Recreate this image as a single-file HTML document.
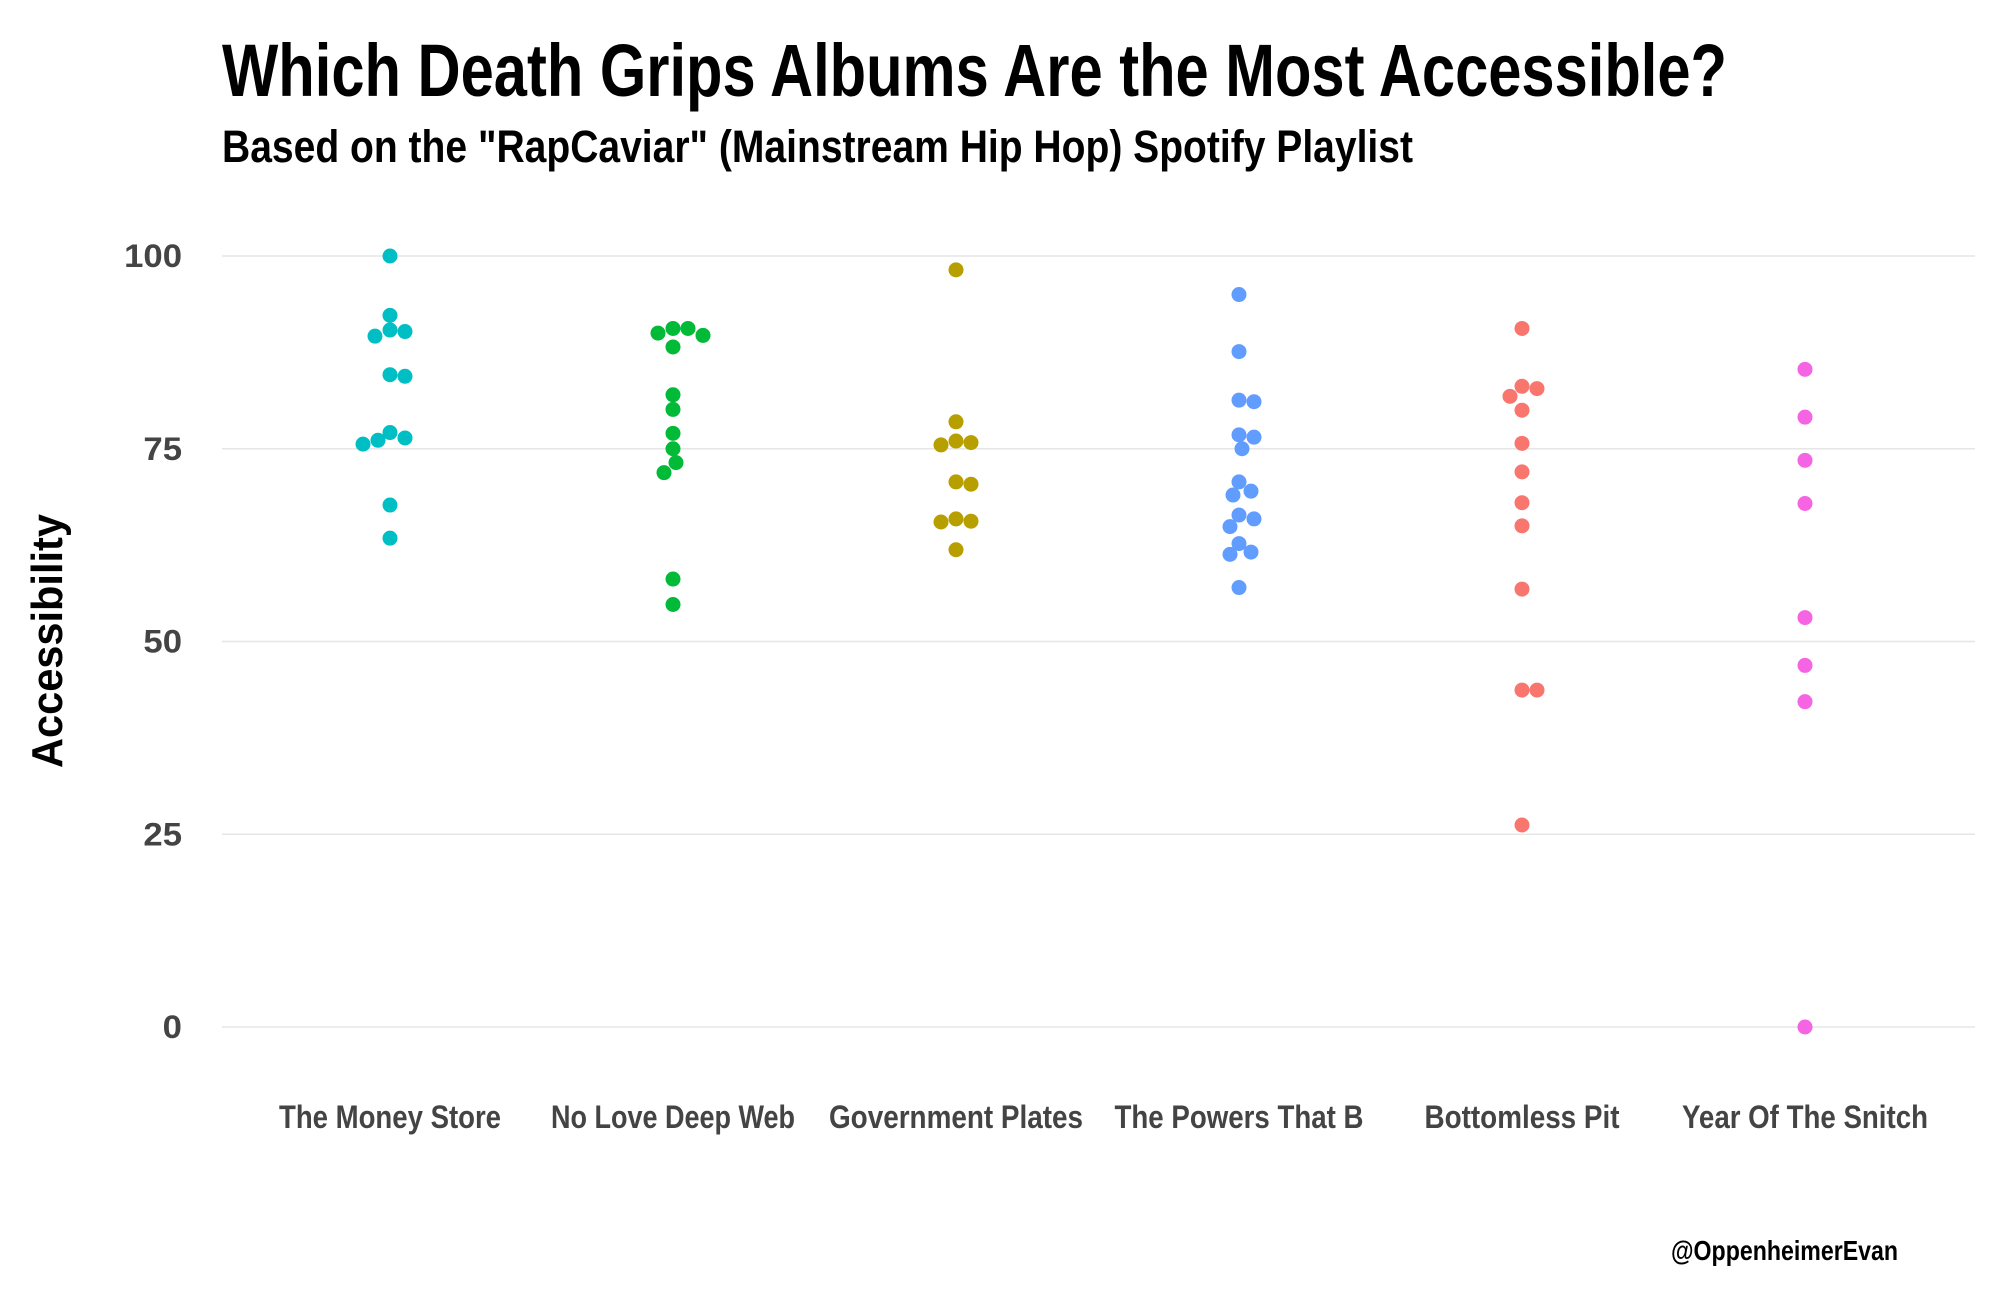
<!DOCTYPE html>
<html><head><meta charset="utf-8"><style>
html,body{margin:0;padding:0;background:#fff;}
svg{display:block;font-family:"Liberation Sans Narrow","Liberation Sans",sans-serif;font-weight:bold;}
</style></head><body>
<svg id="chart" width="2000" height="1304" viewBox="0 0 2000 1304">
<text x="222" y="96" font-size="74" fill="#000" textLength="1505" lengthAdjust="spacingAndGlyphs">Which Death Grips Albums Are the Most Accessible?</text>
<text x="222" y="162" font-size="45" fill="#000" textLength="1191" lengthAdjust="spacingAndGlyphs">Based on the "RapCaviar" (Mainstream Hip Hop) Spotify Playlist</text>
<text transform="translate(62,641) rotate(-90)" text-anchor="middle" font-size="44" fill="#000" textLength="254" lengthAdjust="spacingAndGlyphs">Accessibility</text>
<text x="1898" y="1260" text-anchor="end" font-size="28" fill="#000" textLength="227" lengthAdjust="spacingAndGlyphs">@OppenheimerEvan</text>
<g id="grid"></g><g id="xlabels"></g><g id="ylabels"></g><g id="points"></g>
</svg>
<script>
const categories=["The Money Store","No Love Deep Web","Government Plates","The Powers That B","Bottomless Pit","Year Of The Snitch"];
const labelWidths=[222,244,254,249,195,246];
const colors=["#00BFC4","#00BA38","#B79F00","#619CFF","#F8766D","#F564E3"];
const moneyStore=[100,92.3,90.4,90.2,89.6,84.4,84.6,77.1,76.4,76.1,75.6,67.7,63.4];
const noLove=[90.6,90.6,90.0,89.7,88.2,82,80.1,77,75,73.2,71.9,58.1,54.8];
const govPlates=[98.2,78.5,76,75.5,75.8,70.7,70.4,65.9,65.6,65.5,61.9];
const powers=[95,87.6,81.3,81.1,76.8,76.5,75,70.7,69.5,69.0,66.4,65.9,64.9,62.7,61.6,61.3,57];
const bottomless=[90.6,83.1,82.8,81.8,80,75.7,72,68,65,56.8,43.7,43.7,26.2];
const snitch=[85.3,79.1,73.5,67.9,53.1,46.9,42.2,0];
const yTicks=[0,25,50,75,100];
const series=[moneyStore,noLove,govPlates,powers,bottomless,snitch];
const NS="http://www.w3.org/2000/svg";
const y=v=>1027-v*7.71;
const x=i=>390+i*283;
function mk(t,a,p){const e=document.createElementNS(NS,t);for(const k in a)e.setAttribute(k,a[k]);p.appendChild(e);return e;}
const grid=document.getElementById('grid'),yl=document.getElementById('ylabels'),xl=document.getElementById('xlabels'),pts=document.getElementById('points');
yTicks.forEach(t=>{
 const l=mk('line',{x1:222,x2:1975,y1:y(t),y2:y(t),stroke:'#e6e6e6','stroke-width':1.5},grid);
 
 
 const s=String(t);
 const tx=mk('text',{x:182,y:y(t)+11,'text-anchor':'end','font-size':32,fill:'#444',textLength:s.length*19.3,lengthAdjust:'spacingAndGlyphs'},yl);
 tx.textContent=s;
 
 
});
categories.forEach((c,i)=>{
 const tx=mk('text',{x:x(i),y:1128,'text-anchor':'middle','font-size':32,fill:'#444',textLength:labelWidths[i],lengthAdjust:'spacingAndGlyphs'},xl);
 tx.textContent=c;
 
 
});
const r=7.5,d=14;
series.forEach((vals,i)=>{
 const placed=[];
 const sorted=vals.slice().sort((a,b)=>b-a);
 sorted.forEach(v=>{
  const cy=y(v);let off=0;
  for(let k=0;k<60;k++){
   const cand=k===0?0:(k%2?1:-1)*Math.ceil(k/2)*3;
   if(placed.every(p=>Math.hypot(p[0]-cand,p[1]-cy)>=d)){off=cand;break;}
  }
  placed.push([off,cy]);
  const c=mk('circle',{cx:x(i)+off,cy:cy,r:r,fill:colors[i]},pts);
  
  
 });
});
</script>
</body></html>
